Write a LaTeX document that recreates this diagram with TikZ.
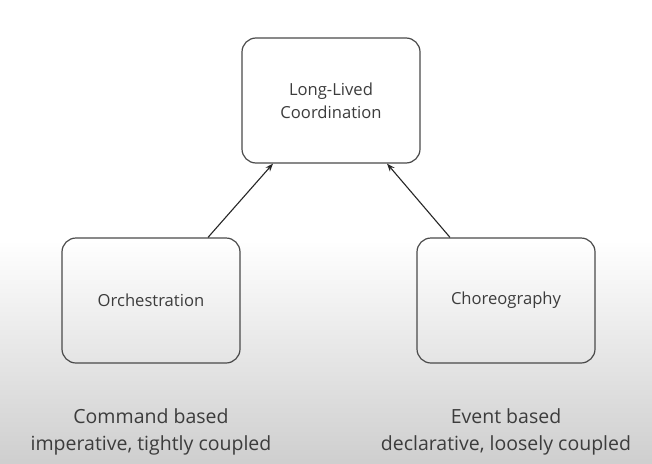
\documentclass[tikz,border=0pt]{standalone}
\usepackage{fontspec}
\setmainfont{Open Sans}
\usetikzlibrary{arrows.meta}
\definecolor{txt}{HTML}{3C3C3C}
\definecolor{edge}{HTML}{4A4A4A}
\begin{document}
\begin{tikzpicture}[x=1pt,y=-1pt,
  box/.style={draw=edge, line width=1.2pt, rounded corners=14pt, minimum width=178pt, minimum height=125pt, inner sep=0pt, align=center, text=txt, font=\fontsize{16.6}{23}\selectfont},
  caption/.style={align=center, text=txt, font=\fontsize{19.5}{27}\selectfont},
  conn/.style={draw=black!85, line width=1.1pt, -{Stealth[length=8pt,width=6pt]}}]
\useasboundingbox (0,0) rectangle (652,463);
\fill[white] (0,0) rectangle (652,242);
\shade[top color=white, bottom color=black!19] (0,240) rectangle (652,463);
\node[box] (t) at (331,100.5) {Long-Lived\\Coordination};
\node[box] (l) at (151,300.5) {Orchestration};
\node[box] (r) at (506,300.5) {Choreography};
\draw[conn] ([xshift=57pt]l.north) -- ([xshift=-58pt]t.south);
\draw[conn] ([xshift=-56pt]r.north) -- ([xshift=56pt]t.south);
\node[caption] (lc) at (151,431.5) {Command based\\imperative, tightly coupled};
\node[caption] (rc) at (506,431.5) {Event based\\declarative, loosely coupled};
\end{tikzpicture}
\end{document}
